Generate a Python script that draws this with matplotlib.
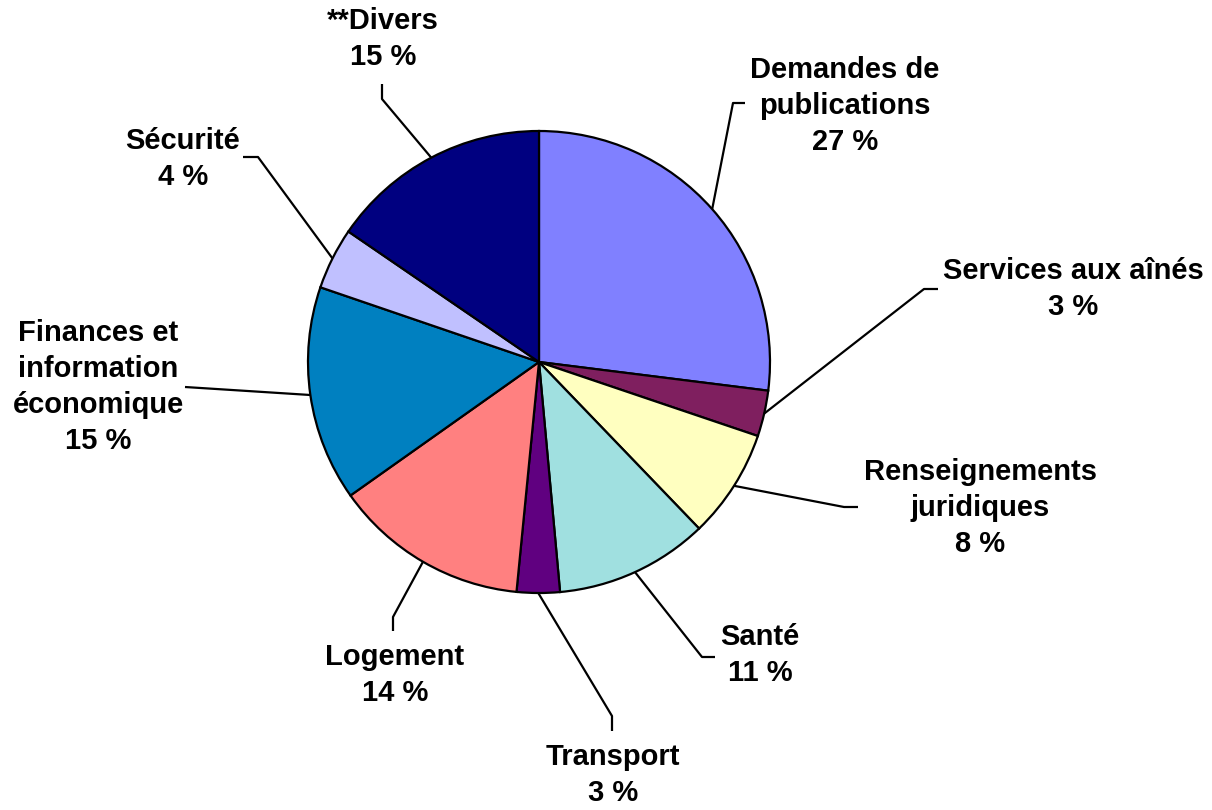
import matplotlib
matplotlib.use('Agg')
import matplotlib.pyplot as plt
import numpy as np

plt.rcParams['font.family'] = ['Liberation Sans', 'DejaVu Sans']

categories = ['Demandes de\npublications', 'Services aux aînés', 'Renseignements\njuridiques',
              'Santé', 'Transport', 'Logement', 'Finances et\ninformation\néconomique',
              'Sécurité', '**Divers']
values = [26.9, 3.2, 7.6, 10.7, 3.0, 13.6, 15.0, 4.3, 15.4]
pct_labels = ['27 %', '3 %', '8 %', '11 %', '3 %', '14 %', '15 %', '4 %', '15 %']
colors = ['#8080FF', '#7F1F5F', '#FFFFC0', '#A0E0E0', '#600080',
          '#FF8080', '#0080C0', '#C0C0FF', '#000080']

# label text centres and leader elbow / end points (layout, in pie radius units)
def px(x, y):
    return ((x - 539) / 231.0, (362 - y) / 231.0)

text_pos = [px(845, 106), px(1073, 289), px(980, 508), px(760, 655), px(613, 775),
            px(395, 675), px(98, 387), px(183, 159), px(383, 39)]
elbows = [[px(733, 103), px(745, 103)],
          [px(924, 289), px(938, 289)],
          [px(844, 507), px(858, 507)],
          [px(702, 657), px(715, 657)],
          [px(612, 716), px(612, 731)],
          [px(393, 617), px(393, 631)],
          [px(185, 387)],
          [px(258, 157), px(243, 157)],
          [px(382, 99), px(382, 84)]]

fig = plt.figure(figsize=(12.12, 8.10), dpi=100)
ax = fig.add_axes([0, 0, 1, 1])

wedges, _ = ax.pie(values, colors=colors, startangle=90, counterclock=False, radius=1.0,
                   wedgeprops=dict(edgecolor='black', linewidth=1.6))
ax.set_aspect('auto')
ax.set_xlim(-539 / 231.0, (1212 - 539) / 231.0)
ax.set_ylim(-(810 - 362) / 231.0, 362 / 231.0)
ax.axis('off')

for w, lab, pct, tp, el in zip(wedges, categories, pct_labels, text_pos, elbows):
    mid = np.deg2rad((w.theta1 + w.theta2) / 2.0)
    sx, sy = np.cos(mid), np.sin(mid)
    xs = [sx] + [p[0] for p in el]
    ys = [sy] + [p[1] for p in el]
    ax.plot(xs, ys, color='black', lw=1.6, solid_capstyle='butt')
    ax.text(tp[0], tp[1], lab + '\n' + pct, ha='center', va='center', multialignment='center',
            fontsize=21, fontweight='bold', linespacing=1.36)

fig.savefig('out.png', dpi=100)
